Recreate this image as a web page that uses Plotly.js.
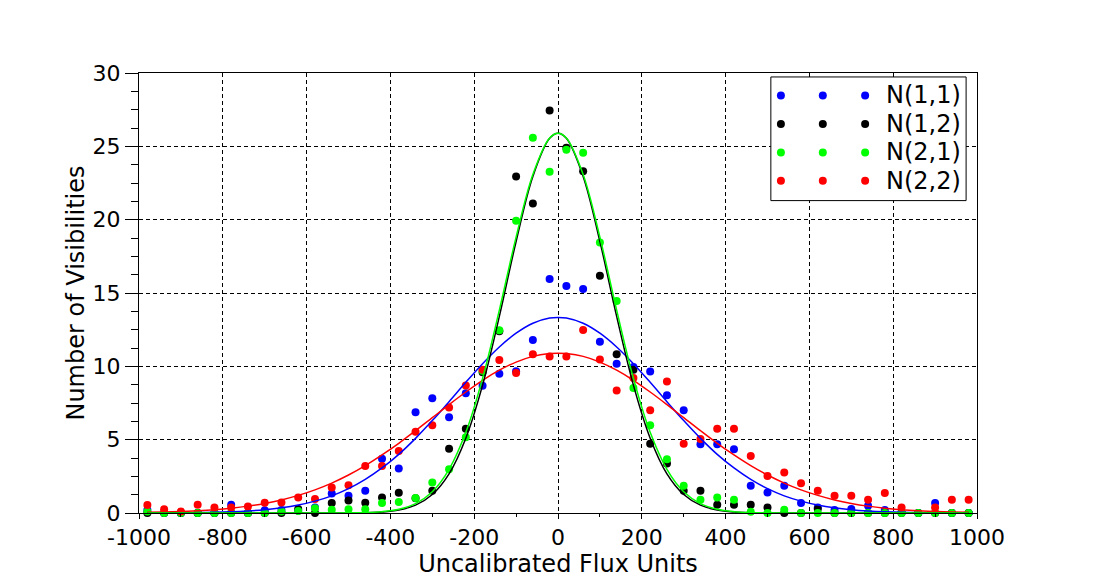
<!DOCTYPE html>
<html>
<head>
<meta charset="utf-8">
<script src="https://cdn.plot.ly/plotly-3.0.1.min.js"></script>
<style>html,body{margin:0;padding:0;background:#fff;}#chart{width:1117px;height:587px;}</style>
</head>
<body>
<div id="chart"></div>
<script>
// Bin centres (Uncalibrated Flux Units)
const binX = [-980,-940,-900,-860,-820,-780,-740,-700,-660,-620,-580,-540,-500,-460,-420,-380,-340,-300,-260,-220,-180,-140,-100,-60,-20,
              20,60,100,140,180,220,260,300,340,380,420,460,500,540,580,620,660,700,740,780,820,860,900,940,980];

// Number of visibilities per bin
const n11 = [0.2,0,0,0,0,0.56,0,0.18,0.2,0.15,0.38,1.33,1.17,1.51,3.7,3.03,6.87,7.82,6.53,8.16,8.68,9.49,9.67,11.8,15.95,
             15.48,15.27,11.68,10.17,9.95,9.65,8.02,7.0,4.68,4.68,4.34,1.85,1.4,1.85,0.68,0.38,0.2,0.27,0.5,0.2,0.05,0,0.68,0,0];
const n12 = [0,0,0,0,0,0,0,0,0,0.27,0,0.68,0.85,0.7,1.06,1.38,1.0,1.51,4.38,5.74,9.6,12.4,22.94,21.1,27.44,
             24.9,23.3,16.18,10.83,9.76,4.73,3.37,1.51,1.51,0.56,0.56,0.56,0.38,0,0,0.27,0,0,0,0,0,0,0,0,0];
const n21 = [0.1,0,0,0,0,0,0,0,0.1,0.13,0.33,0.22,0.25,0.25,0.68,0.75,1.02,2.08,2.98,5.17,9.7,12.46,19.93,25.58,23.27,
             24.77,24.56,18.44,14.46,8.52,5.99,3.66,1.85,0.9,1.06,0.9,0.09,0,0.22,0,0,0,0,0,0,0,0,0,0,0];
const n22 = [0.55,0.25,0.1,0.56,0.38,0.38,0.44,0.7,0.72,1.06,0.95,1.74,1.9,3.2,3.2,4.22,5.54,5.99,7.2,8.7,9.76,10.44,9.54,10.83,10.67,
             10.67,12.47,10.47,8.36,9.2,7.0,8.97,4.72,5.04,5.74,5.74,3.89,2.53,2.76,2.03,1.51,1.17,1.17,0.9,1.36,0.38,null,0.38,0.9,0.9];

// Fitted curves
const fitX = [-980,-940,-900,-860,-820,-780,-740,-700,-660,-620,-580,-540,-500,-460,-420,-380,-340,-300,-260,-220,-180,-140,-100,-60,-20,0,
              20,60,100,140,180,220,260,300,340,380,420,460,500,540,580,620,660,700,740,780,820,860,900,940,980];
const fit11 = [0.0045,0.0085,0.016,0.028,0.049,0.084,0.139,0.225,0.354,0.542,0.809,1.17,1.66,2.29,3.07,4.00,5.09,6.30,7.59,8.91,10.18,11.32,12.26,12.94,13.29,13.33,
               13.29,12.94,12.26,11.32,10.18,8.91,7.59,6.30,5.09,4.00,3.07,2.29,1.66,1.17,0.809,0.542,0.354,0.225,0.139,0.084,0.049,0.028,0.016,0.0085,0.0045];
const fit22 = [0.044,0.068,0.104,0.156,0.229,0.331,0.469,0.653,0.892,1.20,1.58,2.04,2.59,3.23,3.96,4.75,5.61,6.50,7.39,8.25,9.05,9.74,10.29,10.68,10.87,10.9,
               10.87,10.68,10.29,9.74,9.05,8.25,7.39,6.50,5.61,4.75,3.96,3.23,2.59,2.04,1.58,1.20,0.892,0.653,0.469,0.331,0.229,0.156,0.104,0.068,0.044];
const fit12 = [0,0,0,0,0,0,0,0,0,0,0,0.0014,0.006,0.021,0.069,0.203,0.533,1.26,2.67,5.10,8.72,13.41,18.51,22.95,25.55,25.9,
               25.55,22.95,18.51,13.41,8.72,5.10,2.67,1.26,0.533,0.203,0.069,0.021,0.006,0.0014,0,0,0,0,0,0,0,0,0,0,0];
const fit21 = [0,0,0,0,0,0,0,0,0,0,0.0005,0.0023,0.0087,0.030,0.092,0.255,0.641,1.45,2.98,5.50,9.18,13.83,18.81,23.08,25.57,25.9,
               25.57,23.08,18.81,13.83,9.18,5.50,2.98,1.45,0.641,0.255,0.092,0.030,0.0087,0.0023,0.0005,0,0,0,0,0,0,0,0,0,0];

const seriesNames = ['N(1,1)','N(1,2)','N(2,1)','N(2,2)'];
const seriesColors = ['#0000ff','#000000','#00ff00','#ff0000'];

const xTickVals = [-1000,-800,-600,-400,-200,0,200,400,600,800,1000];
const xTickLabels = ['-1000','-800','-600','-400','-200','0','200','400','600','800','1000'];
const yTickVals = [0,5,10,15,20,25,30];
const yTickLabels = ['0','5','10','15','20','25','30'];

const pts = [n11, n12, n21, n22];
const fits = [fit11, fit12, fit21, fit22];

const traces = [];
pts.forEach((ys, i) => {
  traces.push({
    type: 'scatter', mode: 'markers', x: binX, y: ys, name: seriesNames[i],
    marker: {color: seriesColors[i], size: 8, line: {width: 0}},
    cliponaxis: false, showlegend: false, hoverinfo: 'x+y'
  });
});
[0, 3, 1, 2].forEach(i => {
  traces.push({
    type: 'scatter', mode: 'lines', x: fitX, y: fits[i], name: seriesNames[i] + ' fit',
    line: {color: seriesColors[i], width: 1.5, shape: 'spline'},
    showlegend: false, hoverinfo: 'skip'
  });
});

// Custom legend (three sample dots + label per row)
const legRowsY = [0.949, 0.884, 0.8195, 0.755];
const legDotsX = [0.766, 0.816, 0.8665];
const shapes = [{
  type: 'rect', xref: 'paper', yref: 'paper', x0: 0.754, x1: 0.987, y0: 0.710, y1: 0.991,
  line: {color: '#000', width: 1}, fillcolor: '#fff', layer: 'above'
}];
const annotations = [];
seriesNames.forEach((nm, i) => {
  legDotsX.forEach(dx => {
    shapes.push({
      type: 'circle', xref: 'paper', yref: 'paper', xsizemode: 'pixel', ysizemode: 'pixel',
      xanchor: dx, yanchor: legRowsY[i], x0: -4, x1: 4, y0: -4, y1: 4,
      fillcolor: seriesColors[i], line: {width: 0}, layer: 'above'
    });
  });
  annotations.push({
    xref: 'paper', yref: 'paper', x: 0.889, y: legRowsY[i], xanchor: 'left', yanchor: 'middle',
    text: nm, showarrow: false, font: {family: 'DejaVu Sans', size: 24, color: '#000'}
  });
});

const axisCommon = {
  showline: true, linecolor: '#000', linewidth: 1, mirror: true,
  showgrid: true, gridcolor: '#000', gridwidth: 1, griddash: '4px,3px',
  zeroline: false, ticks: 'outside', tickcolor: '#000', tickwidth: 1,
  tickmode: 'array', tickfont: {family: 'DejaVu Sans', size: 22, color: '#000'}
};

const layout = {
  width: 1117, height: 587,
  margin: {l: 139, r: 140, t: 73, b: 74},
  paper_bgcolor: '#fff', plot_bgcolor: '#fff',
  font: {family: 'DejaVu Sans', color: '#000'},
  showlegend: false,
  xaxis: Object.assign({}, axisCommon, {
    range: [-1000, 1000], tickvals: xTickVals, ticktext: xTickLabels, ticklen: 5,
    minor: {tick0: -1000, dtick: 100, ticks: 'outside', ticklen: 3, tickcolor: '#000', showgrid: false},
    title: {text: 'Uncalibrated Flux Units', font: {family: 'DejaVu Sans', size: 24, color: '#000'}, standoff: 5}
  }),
  yaxis: Object.assign({}, axisCommon, {
    range: [0, 30], tickvals: yTickVals, ticktext: yTickLabels, ticklen: 13,
    minor: {tick0: 0, dtick: 1.25, ticks: 'outside', ticklen: 7, tickcolor: '#000', showgrid: false},
    title: {text: 'Number of Visibilities', font: {family: 'DejaVu Sans', size: 24, color: '#000'}, standoff: 1}
  }),
  shapes: shapes,
  annotations: annotations
};

Plotly.newPlot('chart', traces, layout, {displayModeBar: false, staticPlot: true});
</script>
</body>
</html>
